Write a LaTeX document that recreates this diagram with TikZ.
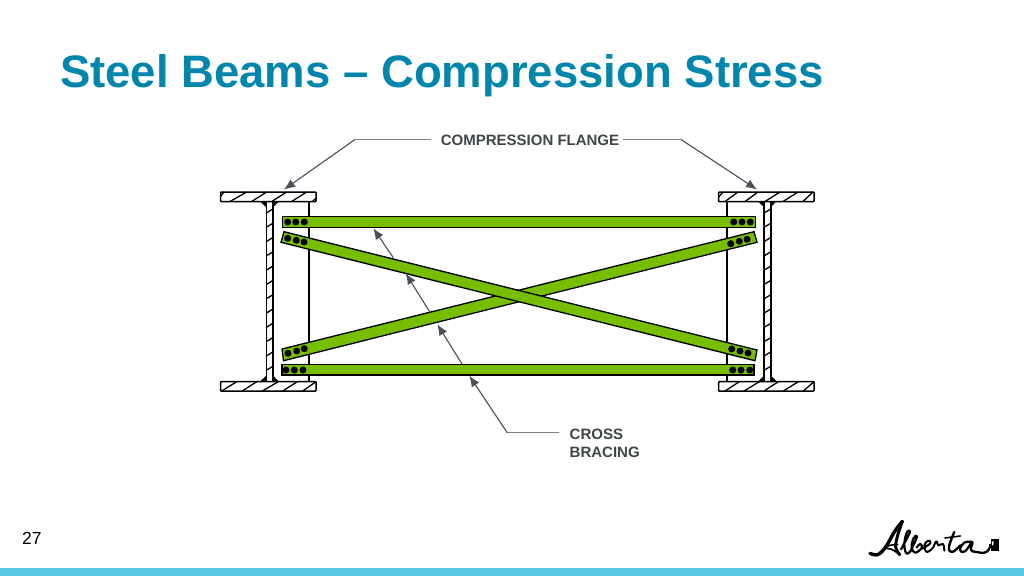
\documentclass[tikz,border=0pt]{standalone}
\usepackage{fontspec}
\setmainfont{Liberation Sans}
\usetikzlibrary{arrows.meta}
\definecolor{titleblue}{HTML}{0085AD}
\definecolor{bandblue}{HTML}{5BC8E8}
\definecolor{beamgreen}{HTML}{78BE00}
\definecolor{labelgray}{HTML}{404547}
\definecolor{leadgray}{HTML}{808080}
\definecolor{arrowgray}{HTML}{4A4F5A}
\tikzset{
  flange/.style={draw=black,fill=white,line width=1.5pt,rounded corners=0.6pt},
  hatch/.style={draw=black,line width=1.3pt},
  steel/.style={draw=black,line width=1.6pt},
  weld/.style={fill=black,draw=none},
  bar/.style={draw=black,fill=beamgreen,line width=1.3pt,line join=miter},
  bolt/.style={circle,fill=black,inner sep=0pt,minimum size=7pt},
  lead/.style={draw=leadgray,line width=1.2pt},
  leadarrow/.style={draw=arrowgray,line width=1.1pt,-{Latex[length=11pt,width=9pt]}},
  lab/.style={font=\bfseries\fontsize{15}{18}\selectfont,text=labelgray,inner sep=0pt},
  logo/.style={draw=black,line cap=round,line join=round}
}
\begin{document}
\begin{tikzpicture}[x=1pt,y=-1pt]
\useasboundingbox (0,0) rectangle (1024,576);
\fill[white] (0,0) rectangle (1024,576);
\fill[bandblue] (0,568) rectangle (1024,576);
\node[anchor=west,inner sep=0pt,text=titleblue,font=\bfseries\fontsize{45.5}{50}\selectfont] (title) at (60,75.5) {Steel Beams – Compression Stress};
\node[anchor=west,inner sep=0pt,text=black,font=\fontsize{17.5}{18}\selectfont] (pagenum) at (22,538.5) {27};

% webs and inner lines
\draw[steel] (266.3,201) -- (266.3,382) (272.8,201) -- (272.8,382) (308.7,201) -- (308.7,382);
\draw[steel] (764,201) -- (764,382) (770.7,201) -- (770.7,382) (726.7,201) -- (726.7,382);
\foreach \y in {213,227.3,241.6,255.9,270.2,284.5,298.8,313.1,327.4,341.7,356,370.3}{
  \draw[hatch] (266.3,\y) -- (272.8,\y-4);
  \draw[hatch] (764,\y) -- (770.7,\y-4);
}
% welds
\fill[weld] (260,201.5) -- (266.5,201.5) -- (266.5,207.5) -- cycle;
\fill[weld] (272.7,201.5) -- (279,201.5) -- (272.7,207.5) -- cycle;
\fill[weld] (758,201.5) -- (764,201.5) -- (764,207.5) -- cycle;
\fill[weld] (770.7,201.5) -- (776,201.5) -- (770.7,207.5) -- cycle;
\fill[weld] (260,381.5) -- (266.5,375.5) -- (266.5,381.5) -- cycle;
\fill[weld] (272.7,375.5) -- (279,381.5) -- (272.7,381.5) -- cycle;
\fill[weld] (758,381.5) -- (764,375.5) -- (764,381.5) -- cycle;
\fill[weld] (770.7,375.5) -- (777,381.5) -- (770.7,381.5) -- cycle;
% flanges
\draw[flange] (220.7,192) rectangle (316,201.5);
\draw[flange] (718.7,192) rectangle (814,201.5);
\draw[flange] (220.7,381.7) rectangle (316,391);
\draw[flange] (718.7,381.7) rectangle (814,391);
\foreach \a/\b in {230/246.7,251.7/266.7,271.7/286.7,291.7/306.7}{\draw[hatch] (\a,201.5) -- (\b,192);}
\draw[hatch] (220.7,196) -- (224,192);
\draw[hatch] (312.5,201.5) -- (316,198);
\foreach \a/\b in {725/738,745/758,765/780,783/798,803/813}{\draw[hatch] (\a,201.5) -- (\b,192);}
\draw[hatch] (718.7,197) -- (723,192);
\foreach \a/\b in {221.7/236.7,242.3/256.7,262.3/278.3,282.7/297.3,302.7/316}{\draw[hatch] (\a,391) -- (\b,381.7);}
\foreach \a/\b in {725/739.3,744/759.3,764/778.3,783.3/798.3,803.3/814}{\draw[hatch] (\a,391) -- (\b,381.7);}

% bars
\draw[bar] (282.7,216.7) rectangle (755.5,227.3);
\draw[bar] (282,364.3) rectangle (754,375);
\draw[bar] (282,349) -- (754,231.7) -- (757,242.3) -- (283.5,360.7) -- cycle;
\draw[bar] (284,231.7) -- (757,350) -- (755,360.7) -- (281,242.3) -- cycle;
% bolts
\foreach \x/\y in {287.7/222,295.7/222,304.3/222,733.7/222,742/222,750.3/222,
  286/370,294.3/370,303/370,732.7/370,741/370,749.7/370,
  287.7/238.3,296.3/240.3,304/242,731.7/349,740/351,748/353,
  288/353.3,296.7/351,304.3/348.7,730.7/243.7,739.3/241.3,747/239.3}{
  \node[bolt] at (\x,\y) {};
}

% labels
\node[lab,anchor=center] (cf) at (530,140) {COMPRESSION FLANGE};
\node[lab,anchor=north west,align=left] (cb) at (569.5,428.5) {CROSS\\BRACING};
% leaders
\coordinate (cfl) at (431,139.5);
\coordinate (cfr) at (623,139.5);
\coordinate (cfla) at (355,139.5);
\coordinate (cfra) at (681,139.5);
\coordinate (cftl) at (284,189.5);
\coordinate (cftr) at (757,189.5);
\draw[lead] (cfl) -- (cfla);
\draw[lead] (cfr) -- (cfra);
\draw[leadarrow] (cfla) -- (cftl);
\draw[leadarrow] (cfra) -- (cftr);
\coordinate (cbs) at (559,432.8);
\coordinate (cbk) at (507.3,432.8);
\draw[lead] (cbs) -- (cbk);
\draw[leadarrow] (cbk) -- (469.3,375.7);
\draw[leadarrow] (462,364) -- (437.3,324.3);
\draw[leadarrow] (430,312.3) -- (405.7,273.3);
\draw[leadarrow] (393.3,257.7) -- (373.3,228.3);

% logo lettering drawn as strokes
\begin{scope}[shift={(865,512)},x=0.3333pt,y=-0.3333pt]
\draw[logo,line width=3.4pt] plot[smooth,tension=.6] coordinates {(15,124) (38,128) (62,105) (88,60) (112,28)};
\draw[logo,line width=3pt] plot[smooth,tension=.6] coordinates {(112,28) (98,70) (92,105) (104,128)};
\draw[logo,line width=1.6pt] plot[smooth,tension=.7] coordinates {(104,128) (80,112) (60,108) (75,100) (98,98)};
\draw[logo,line width=2.2pt] plot[smooth,tension=.7] coordinates {(108,112) (128,75) (135,58) (126,60) (118,95) (124,124) (136,118)};
\draw[logo,line width=2.2pt] plot[smooth,tension=.7] coordinates {(136,118) (152,85) (155,72) (146,78) (140,105) (150,122) (170,108) (166,96) (155,106)};
\draw[logo,line width=2pt] plot[smooth,tension=.7] coordinates {(172,110) (196,94) (190,86) (178,100) (186,120) (205,106)};
\draw[logo,line width=2pt] plot[smooth,tension=.7] coordinates {(205,106) (214,88) (220,100) (234,96) (238,116)};
\draw[logo,line width=1.6pt] (240,78) -- (286,72);
\draw[logo,line width=2.4pt] plot[smooth,tension=.7] coordinates {(268,60) (252,105) (262,120) (286,100)};
\draw[logo,line width=2.3pt] plot[smooth,tension=.7] coordinates {(322,90) (298,92) (285,114) (300,118) (322,90) (318,114) (335,120) (358,122) (372,112) (376,98)};
\fill[black] (378,82) rectangle (402,118);
\fill[white] (380.5,88) -- (386,88) -- (385,100) -- (381,100) -- cycle;
\end{scope}
\end{tikzpicture}
\end{document}
